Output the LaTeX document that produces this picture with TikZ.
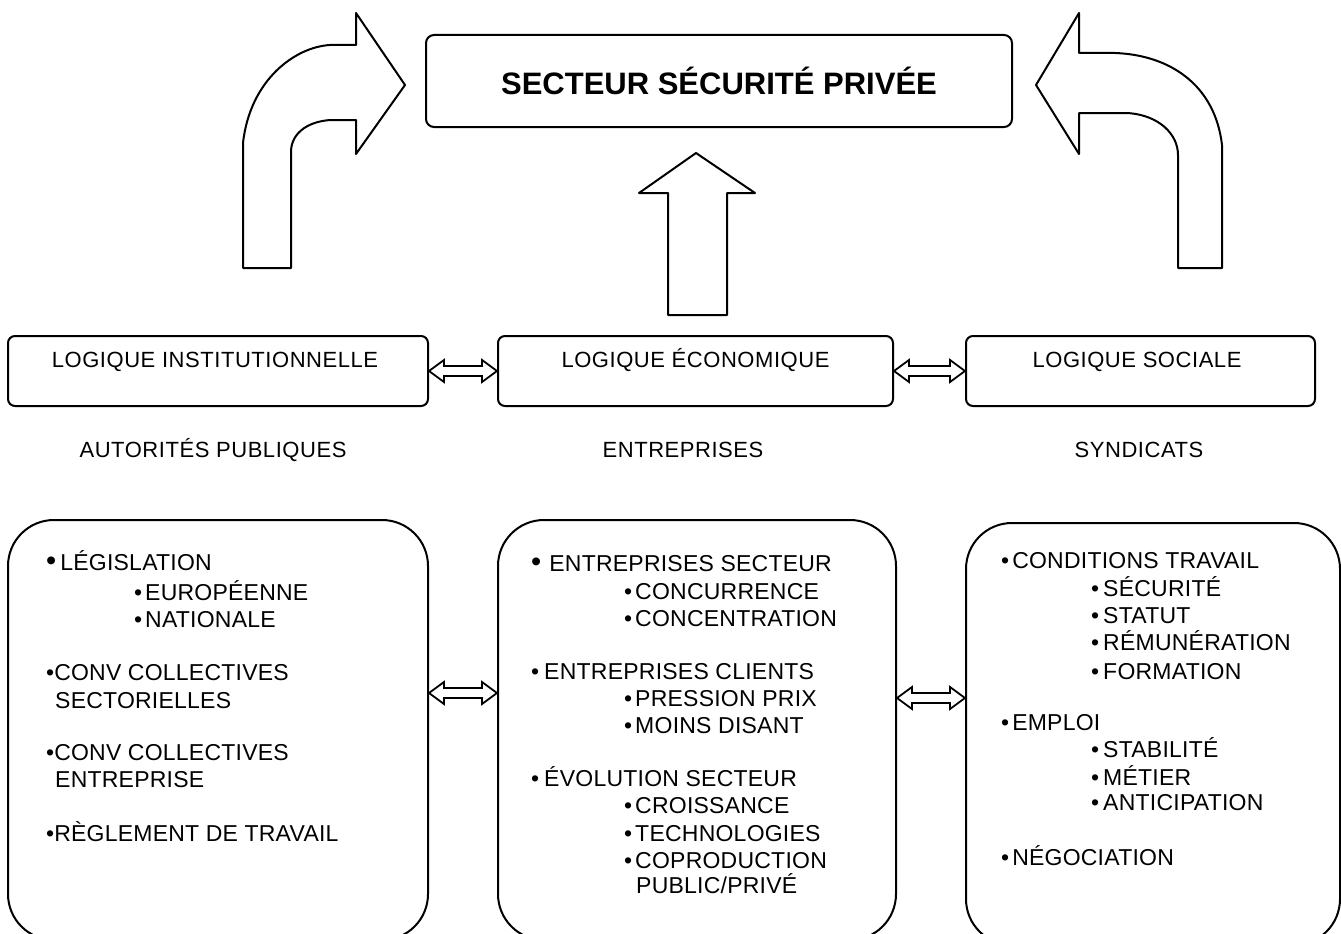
\documentclass[tikz,border=0pt]{standalone}
\usepackage{fontspec}
\setmainfont{Liberation Sans}
\newfontfamily\spacedfont[LetterSpace=2.5]{Liberation Sans}
\newfontfamily\listfont[LetterSpace=1]{Liberation Sans}
\usetikzlibrary{calc}

\newcommand\bul[1]{\textbullet\kern#1pt}
\newcommand\bigbul[1]{{\fontsize{29}{27}\selectfont\textbullet}\kern#1pt}
\newcommand\firstline{\rule{0pt}{21pt}}
\newcommand\dblarrow[2]{\draw[dblarr] (#1) -- ++(15,-11) -- ++(0,6) -- ($(#2)+(-15,-5)$) -- ++(0,-6) -- (#2) -- ++(-15,11) -- ++(0,-6) -- ($(#1)+(15,5)$) -- ++(0,6) -- cycle;}

\tikzset{
  topbox/.style={draw, line width=2pt, rounded corners=8pt, minimum width=586pt, minimum height=92pt, font=\fontsize{31}{36}\selectfont\bfseries},
  logbox/.style={draw, line width=2pt, rounded corners=7pt, minimum height=70pt},
  logtext/.style={anchor=base, inner sep=0pt, font=\spacedfont\fontsize{22}{27}\selectfont},
  listbox/.style={draw, line width=2pt, rounded corners=46pt},
  listtext/.style={anchor=north west, align=left, inner sep=0pt, font=\listfont\fontsize{23}{27}\selectfont},
  bigarrow/.style={draw, line width=2pt, line join=round},
  dblarr/.style={draw, line width=1.8pt, line join=miter}
}

\begin{document}
\begin{tikzpicture}[x=1pt, y=-1pt]
	\useasboundingbox (0,0) rectangle (1341,934);
	\clip (0,0) rectangle (1341,934);
	
	%%%%% TOP %%%%%
	\node[topbox] (sect) at (719,81) {SECTEUR SÉCURITÉ PRIVÉE};
	
	\draw[bigarrow] (356,13) -- (405,85) -- (356,154) -- (356,120) -- (330,120) .. controls (305,122) and (291,135) .. (291,152) -- (291,268) -- (243,268) -- (243,143) .. controls (250,80) and (295,47) .. (330,45) -- (356,45) -- cycle;
	\draw[bigarrow] (1079,13) -- (1036,85) -- (1079,154) -- (1079,113) -- (1127,113) .. controls (1160,115) and (1178,135) .. (1178,155) -- (1178,268) -- (1222,268) -- (1222,145) .. controls (1215,85) and (1170,55) .. (1115,53) -- (1079,53) -- cycle;
	\draw[bigarrow] (696,153) -- (755,193) -- (727,193) -- (727,315) -- (668,315) -- (668,193) -- (639,193) -- cycle;
	
	%%%%% LOGIQUES %%%%%
	\node[logbox, minimum width=420pt] (linst) at (218,371) {};
	\node[logbox, minimum width=395pt] (leco) at (695.5,371) {};
	\node[logbox, minimum width=349pt] (lsoc) at (1140.5,371) {};
	
	\node[logtext] (linst-t) at ($(linst.north)+(-3,32)$) {LOGIQUE INSTITUTIONNELLE};
	\node[logtext] (leco-t) at ($(leco.north)+(0,32)$) {LOGIQUE ÉCONOMIQUE};
	\node[logtext] (lsoc-t) at ($(lsoc.north)+(-3.5,32)$) {LOGIQUE SOCIALE};
	
	\dblarrow{linst.east}{leco.west}
	\dblarrow{leco.east}{lsoc.west}
	
	\node[logtext] (aut) at (213,457) {AUTORITÉS PUBLIQUES};
	\node[logtext] (entr) at (683,457) {ENTREPRISES};
	\node[logtext] (synd) at (1139,457) {SYNDICATS};
	
	%%%%% LISTES %%%%%
	\node[listbox, minimum width=420pt, minimum height=420pt] (lbox) at (218,730) {};
	\node[listbox, minimum width=398pt, minimum height=420pt] (ebox) at (697,730) {};
	\node[listbox, minimum width=374pt, minimum height=422pt] (sbox) at (1153,734) {};
	
	\node[listtext] (ltxt) at (46,549) {%
		\firstline\bigbul{4}LÉGISLATION\\[3pt]
		\hspace*{88pt}\bul{3}EUROPÉENNE\\
		\hspace*{88pt}\bul{3}NATIONALE\\[26pt]
		\bul{0}CONV COLLECTIVES\\[1pt]
		\hspace*{9pt}SECTORIELLES\\[25pt]
		\bul{0}CONV COLLECTIVES\\
		\hspace*{9pt}ENTREPRISE\\[27pt]
		\bul{0}RÈGLEMENT DE TRAVAIL};
	
	\node[listtext] (etxt) at (531,550) {%
		\firstline\bigbul{8}ENTREPRISES SECTEUR\\[1pt]
		\hspace*{93pt}\bul{3}CONCURRENCE\\
		\hspace*{93pt}\bul{3}CONCENTRATION\\[26pt]
		\bul{5}ENTREPRISES CLIENTS\\
		\hspace*{93pt}\bul{3}PRESSION PRIX\\
		\hspace*{93pt}\bul{3}MOINS DISANT\\[26pt]
		\bul{5}ÉVOLUTION SECTEUR\\
		\hspace*{93pt}\bul{3}CROISSANCE\\[1pt]
		\hspace*{93pt}\bul{3}TECHNOLOGIES\\
		\hspace*{93pt}\bul{3}COPRODUCTION\\[-2pt]
		\hspace*{105pt}PUBLIC/PRIVÉ};
	
	\node[listtext] (stxt) at (1001,547) {%
		\firstline\bul{3}CONDITIONS TRAVAIL\\[1pt]
		\hspace*{90pt}\bul{4}SÉCURITÉ\\
		\hspace*{90pt}\bul{4}STATUT\\
		\hspace*{90pt}\bul{4}RÉMUNÉRATION\\[2pt]
		\hspace*{90pt}\bul{4}FORMATION\\[24pt]
		\bul{3}EMPLOI\\
		\hspace*{90pt}\bul{4}STABILITÉ\\[1pt]
		\hspace*{90pt}\bul{4}MÉTIER\\[-2pt]
		\hspace*{90pt}\bul{4}ANTICIPATION\\[28pt]
		\bul{3}NÉGOCIATION};
	
	\coordinate (b1) at ($(lbox.east)+(0,-37)$);
	\coordinate (b2) at (b1 -| ebox.west);
	\coordinate (b3) at ($(ebox.east)+(0,-32)$);
	\coordinate (b4) at (b3 -| sbox.west);
	\dblarrow{b1}{b2}
	\dblarrow{b3}{b4}
	
\end{tikzpicture}
\end{document}
